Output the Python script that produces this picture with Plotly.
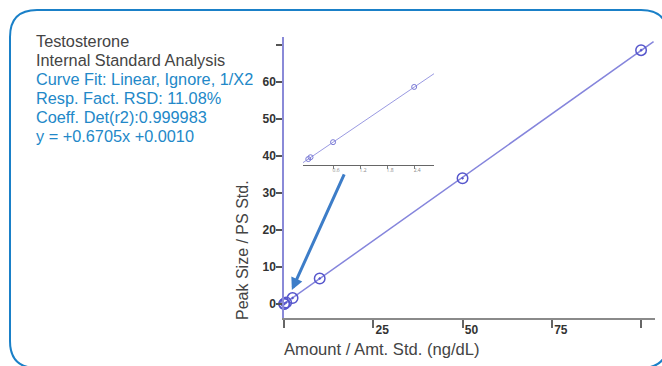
import plotly.graph_objects as go

W, H = 662, 366

# ---- data ----
amounts = [0.05, 0.1, 0.6, 2.4, 10, 50, 100]
responses = [0.03, 0.07, 0.40, 1.61, 6.9, 34.0, 68.6]
fit_x = [0.0, 103.5]
fit_y = [0.0, 70.9]

inset_amounts = [0.05, 0.1, 0.6, 2.4]
inset_responses = [0.03, 0.07, 0.40, 1.61]
inset_fit_x = [-0.07, 2.84]
inset_fit_y = [-0.05, 1.90]

y_ticks = [0, 10, 20, 30, 40, 50, 60, 70]
y_ticktext = ["0", "10", "20", "30", "40", "50", "60", ""]
x_ticks = [0, 25, 50, 75, 100]
x_ticktext = ["", "25", "50", "75", ""]
inset_ticks = [0.6, 1.2, 1.8, 2.4]
inset_ticktext = ["0.6", "1.2", "1.8", "2.4"]

info_dark = ["Testosterone", "Internal Standard Analysis"]
info_blue = ["Curve Fit: Linear, Ignore, 1/X2", "Resp. Fact. RSD: 11.08%",
             "Coeff. Det(r2):0.999983", "y = +0.6705x +0.0010"]


def px(x):
    return x / W


def py(y):
    return 1 - y / H


MARK = "#5656cc"
LINE = "#8585dc"
DARK = "#444444"
BLUE = "#2288c8"
FONT = "Liberation Sans, Arial"

fig = go.Figure()
fig.add_trace(go.Scatter(x=fit_x, y=fit_y, mode="lines",
                         line=dict(color=LINE, width=1.5), hoverinfo="skip",
                         showlegend=False, cliponaxis=False))
fig.add_trace(go.Scatter(x=amounts, y=responses, mode="markers",
                         marker=dict(symbol="circle-open-dot", size=10.5, color=MARK,
                                     line=dict(width=1.5, color=MARK)),
                         showlegend=False, cliponaxis=False))
fig.add_trace(go.Scatter(x=inset_fit_x, y=inset_fit_y, mode="lines", xaxis="x2", yaxis="y2",
                         line=dict(color="#9a9ae2", width=1), hoverinfo="skip",
                         showlegend=False, cliponaxis=False))
fig.add_trace(go.Scatter(x=inset_amounts, y=inset_responses, mode="markers", xaxis="x2", yaxis="y2",
                         marker=dict(symbol="circle-open", size=5, color="#7a7ad6",
                                     line=dict(width=1, color="#7a7ad6")),
                         showlegend=False, cliponaxis=False))

# rounded border
x0, y0, x1, y1, r = 10, 10, 668, 368, 27
path = (f"M {px(x0+r)},{py(y0)} L {px(x1-r)},{py(y0)} "
        f"Q {px(x1)},{py(y0)} {px(x1)},{py(y0+r)} "
        f"L {px(x1)},{py(y1-r)} Q {px(x1)},{py(y1)} {px(x1-r)},{py(y1)} "
        f"L {px(x0+r)},{py(y1)} Q {px(x0)},{py(y1)} {px(x0)},{py(y1-r)} "
        f"L {px(x0)},{py(y0+r)} Q {px(x0)},{py(y0)} {px(x0+r)},{py(y0)} Z")

annotations = []
ys = [41, 60, 79, 98, 117, 136]
for i, t in enumerate(info_dark + info_blue):
    annotations.append(dict(text=t, xref="paper", yref="paper", x=px(34), y=py(ys[i]),
                            xanchor="left", yanchor="middle", showarrow=False,
                            font=dict(family=FONT, size=16.3,
                                      color=DARK if i < 2 else BLUE)))
annotations.append(dict(text="Peak Size / PS Std.", xref="paper", yref="paper",
                        x=px(242), y=py(250), textangle=-90, showarrow=False,
                        xanchor="center", yanchor="middle",
                        font=dict(family=FONT, size=16, color=DARK)))
annotations.append(dict(text="Amount / Amt. Std. (ng/dL)", xref="paper", yref="paper",
                        x=px(382), y=py(349), showarrow=False,
                        xanchor="center", yanchor="middle",
                        font=dict(family=FONT, size=16.6, color=DARK)))
annotations.append(dict(text="", x=2.2, y=3.8, xref="x", yref="y", ax=53, ay=-117,
                        showarrow=True, arrowcolor="#3d7dc8", arrowwidth=3,
                        arrowhead=2, arrowsize=0.8))

tickfont = dict(family=FONT, size=12, color="#333", weight="bold")

fig.update_layout(
    width=W, height=H, autosize=False,
    margin=dict(l=0, r=0, t=0, b=0),
    paper_bgcolor="white", plot_bgcolor="rgba(0,0,0,0)",
    shapes=[dict(type="path", path=path, xref="paper", yref="paper",
                 line=dict(color="#1a80c8", width=2), layer="below")],
    annotations=annotations,
    xaxis=dict(domain=[px(284), px(655)], range=[0, 103.9], showgrid=False, zeroline=False,
               showline=True, linecolor="#8a8a8a", linewidth=1.5,
               tickvals=x_ticks, ticktext=x_ticktext, ticks="outside", ticklen=8,
               tickcolor="#666", tickwidth=1.5, tickfont=tickfont,
               ticklabelshift=9, ticklabelstandoff=-8),
    yaxis=dict(domain=[py(318), py(37)], range=[-3.78, 72.16], showgrid=False, zeroline=False,
               showline=True, linecolor="#8a8ad8", linewidth=1.5,
               tickvals=y_ticks, ticktext=y_ticktext, ticks="outside", ticklen=6,
               tickcolor="#555", tickwidth=1.5, tickfont=tickfont, ticklabelstandoff=-2),
    xaxis2=dict(domain=[px(303), px(434)], range=[-0.067, 2.84], anchor="y2",
                showgrid=False, zeroline=False, showline=True, linecolor="#666", linewidth=1,
                tickvals=inset_ticks, ticktext=inset_ticktext, ticks="outside", ticklen=3,
                tickcolor="#777", tickfont=dict(size=5, color="#888"),
                ticklabelshift=3, ticklabelstandoff=-3),
    yaxis2=dict(domain=[py(165), py(60)], range=[-0.1, 2.2], anchor="x2",
                showgrid=False, zeroline=False, showline=False, showticklabels=False),
)

fig.write_html("out.html")
